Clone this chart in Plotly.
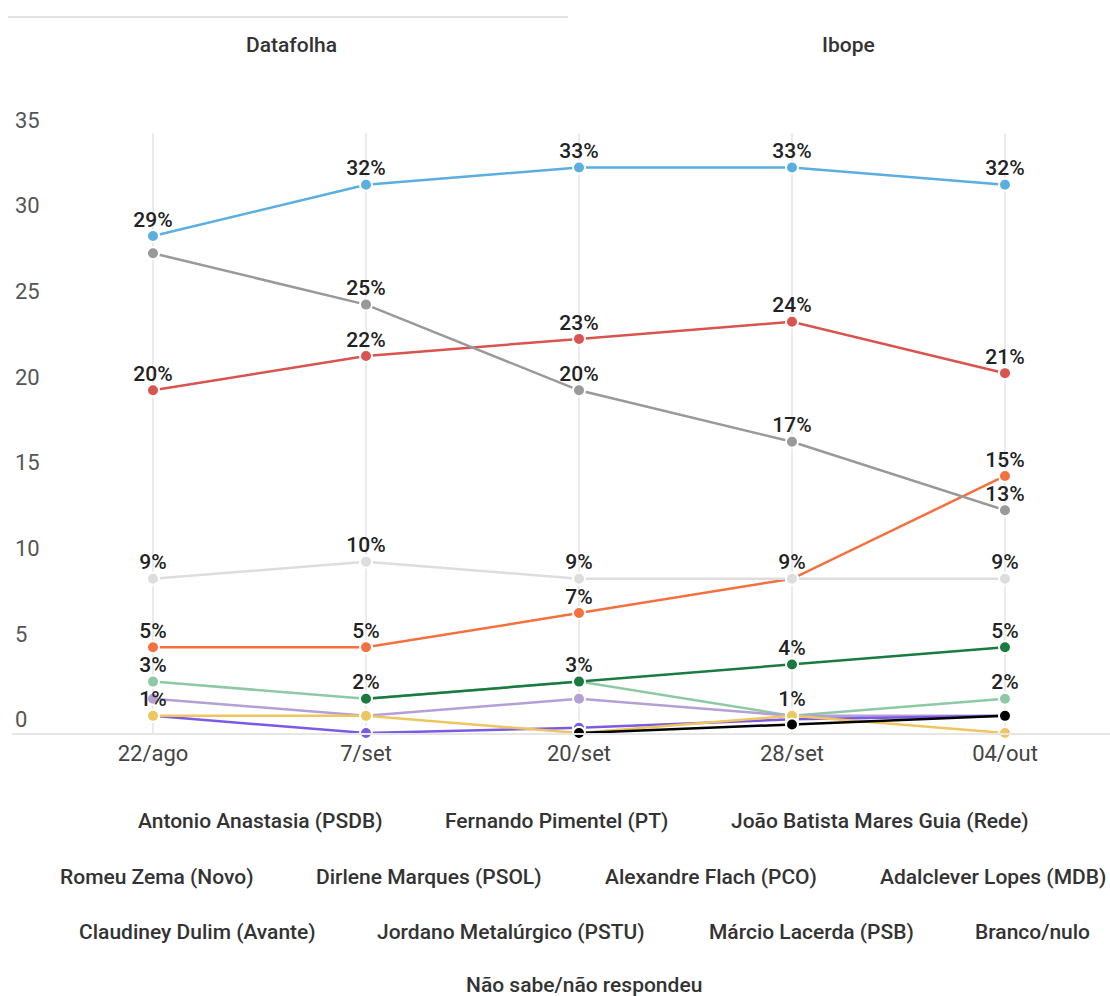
import plotly.graph_objects as go

# Survey dates
dates = ["22/ago", "7/set", "20/set", "28/set", "04/out"]

# Voting intentions (%) per candidate / answer
anastasia = [29, 32, 33, 33, 32]
pimentel = [20, 22, 23, 24, 21]
mares_guia = [3, 2, 3, 1, 2]
zema = [5, 5, 7, 9, 15]
dirlene = [2, 1, 2, 1, 1]
flach = [1, 0, 0.3, 0.8, 1]
adalclever = [None, 2, 3, 4, 5]
claudiney = [1, 1, 0, 1, 0]
jordano = [None, None, 0, 0.5, 1]
lacerda = [None, None, None, None, None]
branco_nulo = [28, 25, 20, 17, 13]
nao_sabe = [9, 10, 9, 9, 9]

names = [
    "Antonio Anastasia (PSDB)", "Fernando Pimentel (PT)", "João Batista Mares Guia (Rede)",
    "Romeu Zema (Novo)", "Dirlene Marques (PSOL)", "Alexandre Flach (PCO)",
    "Adalclever Lopes (MDB)", "Claudiney Dulim (Avante)", "Jordano Metalúrgico (PSTU)",
    "Márcio Lacerda (PSB)", "Branco/nulo", "Não sabe/não respondeu",
]
values = [anastasia, pimentel, mares_guia, zema, dirlene, flach,
          adalclever, claudiney, jordano, lacerda, branco_nulo, nao_sabe]

# Styling per series: colour and which points carry a value label
colors = ["#5aaee0", "#d9534f", "#8cc9a4", "#f4703f", "#b49fd6", "#7b5be3",
          "#1a7a40", "#edc660", "#000000", "#888888", "#999999", "#dddddd"]
labeled = [[0, 1, 2, 3, 4], [0, 1, 2, 3, 4], [0, 4], [0, 1, 2, 4], [], [],
           [1, 2, 3, 4], [0, 3], [], [], [1, 2, 3, 4], [0, 1, 2, 3, 4]]

FONT = "Roboto"
W, H = 1110, 996
Y_TOP = 37.0    # headroom so the top tick label fits inside the plot area
UNIT = 17.14    # pixels per percentage point
L, R, B = 12, 0, 263
T = round(H - B - Y_TOP * UNIT)
PW, PH = W - L - R, H - T - B


def px(x):
    return (x - L) / PW


def py(y):
    return (H - B - y) / PH


fig = go.Figure()

# Lines with markers
for name, vals, col in zip(names, values, colors):
    fig.add_trace(go.Scatter(
        x=dates, y=vals, name=name, mode="lines+markers",
        line=dict(color=col, width=2.5),
        marker=dict(size=12, color=col, line=dict(color="white", width=2)),
        cliponaxis=False, hoverinfo="skip", showlegend=False,
    ))

# Value labels, drawn on top of every line
for name, vals, lab in zip(names, values, labeled):
    if not lab:
        continue
    xs = [dates[i] for i in lab if vals[i] is not None]
    ys = [vals[i] for i in lab if vals[i] is not None]
    fig.add_trace(go.Scatter(
        x=xs, y=ys, mode="markers+text", text=[f"{v:.0f}%" for v in ys],
        textposition="top center",
        marker=dict(size=5, opacity=0),
        textfont=dict(family=FONT, size=21, color="#222", weight=500),
        cliponaxis=False, hoverinfo="skip", showlegend=False,
    ))

annotations = []
# Tabs at the top
for label, xc in [("Datafolha", 291), ("Ibope", 848)]:
    annotations.append(dict(text=label, x=px(xc), y=py(45), xref="paper", yref="paper",
                            showarrow=False, xanchor="center", yanchor="middle",
                            font=dict(family=FONT, size=21, color="#333", weight=500)))

# Legend rows as plain text
legend_rows = [
    (821, [(names[0], 260), (names[1], 556), (names[2], 880)]),
    (877, [(names[3], 157), (names[4], 429), (names[5], 711), (names[6], 993)]),
    (932, [(names[7], 197), (names[8], 511), (names[9], 811), (names[10], 1032)]),
    (985, [(names[11], 584)]),
]
for yc, items in legend_rows:
    for label, xc in items:
        annotations.append(dict(text=label, x=px(xc), y=py(yc), xref="paper", yref="paper",
                                showarrow=False, xanchor="center", yanchor="middle",
                                font=dict(family=FONT, size=21, color="#333", weight=500)))

shapes = [dict(type="line", xref="paper", yref="paper", x0=px(8), x1=px(568),
               y0=py(17), y1=py(17), line=dict(color="#e2e2e2", width=2))]
# Vertical guides at each survey date, up to the top tick
for d in dates:
    shapes.append(dict(type="line", xref="x", yref="y", x0=d, x1=d, y0=0, y1=35,
                       layer="below", line=dict(color="#ebebeb", width=2)))

fig.update_layout(
    width=W, height=H,
    margin=dict(l=L, r=R, t=T, b=B),
    paper_bgcolor="white", plot_bgcolor="white",
    font=dict(family=FONT),
    annotations=annotations, shapes=shapes,
    xaxis=dict(type="category", range=[-0.662, 4.493], showgrid=False,
               showline=True, linecolor="#e6e6e6",
               linewidth=2, zeroline=False, ticks="",
               tickfont=dict(family=FONT, size=22, color="#444")),
    yaxis=dict(range=[0, Y_TOP], tickvals=[0, 5, 10, 15, 20, 25, 30, 35],
               showgrid=False, zeroline=False,
               showline=False, ticks="", ticklabelposition="inside top",
               ticklabelshift=2,
               tickfont=dict(family=FONT, size=22, color="#555")),
)

fig.write_html("out.html")
